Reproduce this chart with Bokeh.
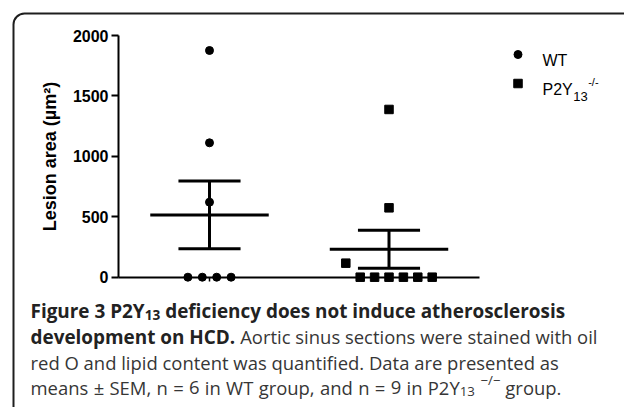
import subprocess
import numpy as np
from bokeh.plotting import figure
from bokeh.models import Range1d, FixedTicker, Label, BoxAnnotation
from bokeh.embed import file_html
from bokeh.resources import INLINE

# ---------------- data ----------------
group_names = ["WT", "P2Y13-/-"]
group_pos = [1, 2]
wt_values = [1876, 1112, 621, 0, 0, 0, 0]
ko_values = [1388, 574, 116, 0, 0, 0, 0, 0, 0]
y_ticks = [0, 500, 1000, 1500, 2000]
y_label = "Lesion area (µm²)"

cap_line1 = [("Figure 3 P2Y", "b", "main"), ("13", "b", "sub"),
             ("deficiency does not induce atherosclerosis", "b", "main")]
cap_line2 = [("development on HCD.", "b", "main"),
             ("Aortic sinus sections were stained with oil", "r", "main")]
cap_line3 = [("red O and lipid content was quantified. Data are presented as", "r", "main")]
cap_line4 = [("means ± SEM, n = 6 in WT group, and n = 9 in P2Y", "r", "words"),
             ("13", "r", "sub"), ("\u2212/\u2212", "r", "sup"), ("group.", "r", "main")]

# ---------------- text measuring (for chaining caption pieces) ----------------
_font_cache = {}


def _font(family, bold):
    key = (family, bold)
    if key in _font_cache:
        return _font_cache[key]
    f = None
    try:
        from PIL import ImageFont
        path = subprocess.run(["fc-match", "-f", "%{file}", f"{family}:{'bold' if bold else 'regular'}"],
                              capture_output=True, text=True, timeout=10).stdout.strip()
        if path:
            f = ImageFont.truetype(path, size=200)
            if "[" in path or "Variable" in path:
                try:
                    f.set_variation_by_name("Bold" if bold else "Regular")
                except Exception:
                    pass
    except Exception:
        f = None
    _font_cache[key] = f
    return f


def text_w(t, family, bold, size):
    f = _font(family, bold)
    if f is None:
        return len(t) * size * (0.57 if bold else 0.52)
    return f.getlength(t) * size / 200.0


def cap_h(family, size):
    f = _font(family, False)
    if f is None:
        return 0.715 * size
    b = f.getbbox("H")
    return (b[3] - b[1]) * size / 200.0


# ---------------- layout helpers (pixel -> data) ----------------
W, H = 624, 407
PX_PER_X = 179.5
X1_PX = 209.0
Y0_PX, Y2000_PX = 276.7, 35.0
ppy = (Y0_PX - Y2000_PX) / 2000.0


def dx(px):
    return 1 + (px - X1_PX) / PX_PER_X


def dy(py):
    return (Y0_PX - py) / ppy


def swarm(vals, center, spacing=0.0802, tol=130):
    s = sorted(vals, reverse=True)
    rows = []
    for v in s:
        if rows and rows[-1][0] - v <= tol:
            rows[-1].append(v)
        else:
            rows.append([v])
    xs, ys = [], []
    for r in rows:
        n = len(r)
        for i, v in enumerate(r):
            xs.append(center + (i - (n - 1) / 2) * spacing)
            ys.append(v)
    return xs, ys


p = figure(width=W, height=H, x_range=Range1d(dx(0), dx(W)), y_range=Range1d(dy(H), dy(0)),
           output_backend="svg", toolbar_location=None,
           min_border_left=0, min_border_right=0, min_border_top=0, min_border_bottom=0)
p.grid.visible = False
p.outline_line_color = None
p.background_fill_color = "white"
p.border_fill_color = "white"

# y axis placed at its data location
ya = p.yaxis[0]
ya.fixed_location = dx(118)
ya.ticker = FixedTicker(ticks=y_ticks)
ya.bounds = (0, 2000)
ya.axis_line_width = 2
ya.axis_line_color = "black"
ya.major_tick_line_width = 2
ya.major_tick_line_color = "black"
ya.major_tick_out = 7
ya.major_tick_in = 0
ya.minor_tick_line_color = None
ya.major_label_text_font = "Liberation Sans"
ya.major_label_text_font_style = "bold"
ya.major_label_text_font_size = "16px"
ya.major_label_text_color = "black"
ya.major_label_standoff = 3
ya.axis_label = y_label
ya.axis_label_text_font = "Liberation Sans"
ya.axis_label_text_font_style = "bold"
ya.axis_label_text_font_size = "18px"
ya.axis_label_text_color = "black"
ya.axis_label_standoff = 10

# x axis at y = 0 (line only)
xa = p.xaxis[0]
xa.fixed_location = 0
xa.ticker = FixedTicker(ticks=[])
xa.bounds = (dx(118), dx(479))
xa.axis_line_width = 2
xa.axis_line_color = "black"
xa.minor_tick_line_color = None
p.segment(x0=group_pos, y0=[0, 0], x1=group_pos, y1=[dy(281)] * 2, line_width=1.5, line_color="black")

# error bars + means
for vals, c in zip([wt_values, ko_values], group_pos):
    a = np.array(vals, dtype=float)
    m = a.mean()
    sem = a.std(ddof=1) / np.sqrt(len(a))
    p.segment(x0=[c - 0.33], y0=[m], x1=[c + 0.33], y1=[m], line_width=3, line_color="black")
    p.segment(x0=[c], y0=[m - sem], x1=[c], y1=[m + sem], line_width=3, line_color="black")
    p.segment(x0=[c - 0.173, c - 0.173], y0=[m - sem, m + sem],
              x1=[c + 0.173, c + 0.173], y1=[m - sem, m + sem], line_width=3, line_color="black")

wx, wy = swarm(wt_values, group_pos[0])
kx, ky = swarm(ko_values, group_pos[1])
p.scatter(wx, wy, marker="circle", size=8, color="black")
p.scatter(kx, ky, marker="square", size=8.5, color="black")

# legend
lx = dx(517.5)
p.scatter([lx], [dy(54)], marker="circle", size=8, color="black")
p.scatter([lx], [dy(83)], marker="square", size=8.5, color="black")
leg_font = "Liberation Sans"
LT = 542
p.add_layout(Label(x=dx(LT), y=dy(60), text=group_names[0], text_font=leg_font,
                   text_font_size="16px", text_baseline="alphabetic", text_color="black"))
w_p2y = text_w("P2Y", leg_font, False, 16)
w_13 = text_w("13", leg_font, False, 13)
p.add_layout(Label(x=dx(LT), y=dy(89), text="P2Y", text_font=leg_font,
                   text_font_size="16px", text_baseline="alphabetic", text_color="black"))
p.add_layout(Label(x=dx(LT + w_p2y + 0.5), y=dy(96), text="13", text_font=leg_font,
                   text_font_size="13px", text_baseline="alphabetic", text_color="black"))
p.add_layout(Label(x=dx(LT + w_p2y + w_13 + 1), y=dy(81), text="-/-", text_font=leg_font,
                   text_font_size="11px", text_baseline="alphabetic", text_color="black"))

# frame border of the figure panel
p.add_layout(BoxAnnotation(left=dx(13), right=dx(720), top=dy(13), bottom=dy(520),
                           fill_alpha=0, fill_color=None, line_color="#1e1e1e", line_alpha=1.0,
                           line_width=2, border_radius=(11, 0, 0, 0)))

# ---------------- caption ----------------
CAP_X0 = 30.0
LINE3_W = 559.0 - CAP_X0       # extent of the longest plain line
LINE1_W = 565.0 - CAP_X0
LINE4_END = 561.0
CAP_CAP_H = 13.3
best = None
for fam in ["Open Sans", "Noto Sans", "Lato", "Roboto", "Liberation Sans", "DejaVu Sans"]:
    w1 = text_w(cap_line3[0][0], fam, False, 1.0)
    if w1 <= 0:
        continue
    s = LINE3_W / w1
    err = abs(cap_h(fam, s) - CAP_CAP_H)
    lw = text_w("Figure 3 P2Y13 deficiency does not induce atherosclerosis", fam, True, s)
    err += abs(lw - LINE1_W) / 25.0
    if best is None or err < best[0]:
        best = (err, fam, s)
_, cap_font, cap_size = best
cap_size = min(max(cap_size, 15.0), 21.0)

l1 = text_w(cap_line1[0][0], cap_font, True, cap_size) + text_w(cap_line1[1][0], cap_font, True, cap_size * 0.72) \
    + text_w(" ", cap_font, True, cap_size) + text_w(cap_line1[2][0], cap_font, True, cap_size)
bold_size = cap_size * min(max(LINE1_W / l1, 0.97), 1.05)

col_bold = "#222222"
col_reg = "#363636"
baselines = [310.5, 336.0, 361.5, 387.0]


def put(t, x, yb, bold, fs):
    p.add_layout(Label(x=dx(x), y=dy(yb), text=t, text_font=cap_font,
                       text_font_style="bold" if bold else "normal",
                       text_font_size=f"{fs:.2f}px", text_color=col_bold if bold else col_reg,
                       text_baseline="alphabetic", text_align="left"))


def line_width_natural(line):
    """natural width of a line, returns (total, n_word_gaps)"""
    total, gaps, prev = 0.0, 0, None
    for t, wt, kind in line:
        bold = wt == "b"
        main = bold_size if bold else cap_size
        fs = main if kind in ("main", "words") else main * 0.72
        if prev is not None:
            if kind in ("main", "words"):
                total += text_w(" ", cap_font, bold, main)
            elif kind == "sup":
                total += 0.3 * main
        if kind == "words":
            ws = t.split(" ")
            total += sum(text_w(w, cap_font, bold, fs) for w in ws) + (len(ws) - 1) * text_w(" ", cap_font, bold, fs)
            gaps += len(ws) - 1
        else:
            total += text_w(t, cap_font, bold, fs)
        prev = kind
    return total, gaps


for idx, (line, base) in enumerate(zip([cap_line1, cap_line2, cap_line3, cap_line4], baselines)):
    extra = 0.0
    if idx == 3:
        nat, gaps = line_width_natural(line)
        if gaps:
            extra = max(min((LINE4_END - CAP_X0 - nat) / gaps, 3.0), -1.0)
    x = CAP_X0
    prev_kind = None
    for t, wt, kind in line:
        bold = wt == "b"
        main = bold_size if bold else cap_size
        fs = main if kind in ("main", "words") else main * 0.72
        if prev_kind is not None:
            if kind in ("main", "words"):
                x += text_w(" ", cap_font, bold, main)
            elif kind == "sup":
                x += 0.3 * main
        yb = base
        if kind == "sub":
            yb = base + 0.22 * main
        elif kind == "sup":
            yb = base - 0.42 * main
        if kind == "words":
            ws = t.split(" ")
            for i, w in enumerate(ws):
                put(w, x, yb, bold, fs)
                x += text_w(w, cap_font, bold, fs)
                if i < len(ws) - 1:
                    x += text_w(" ", cap_font, bold, fs) + extra
        else:
            put(t, x, yb, bold, fs)
            x += text_w(t, cap_font, bold, fs)
        prev_kind = kind

open("out.html", "w").write(file_html(p, INLINE))
